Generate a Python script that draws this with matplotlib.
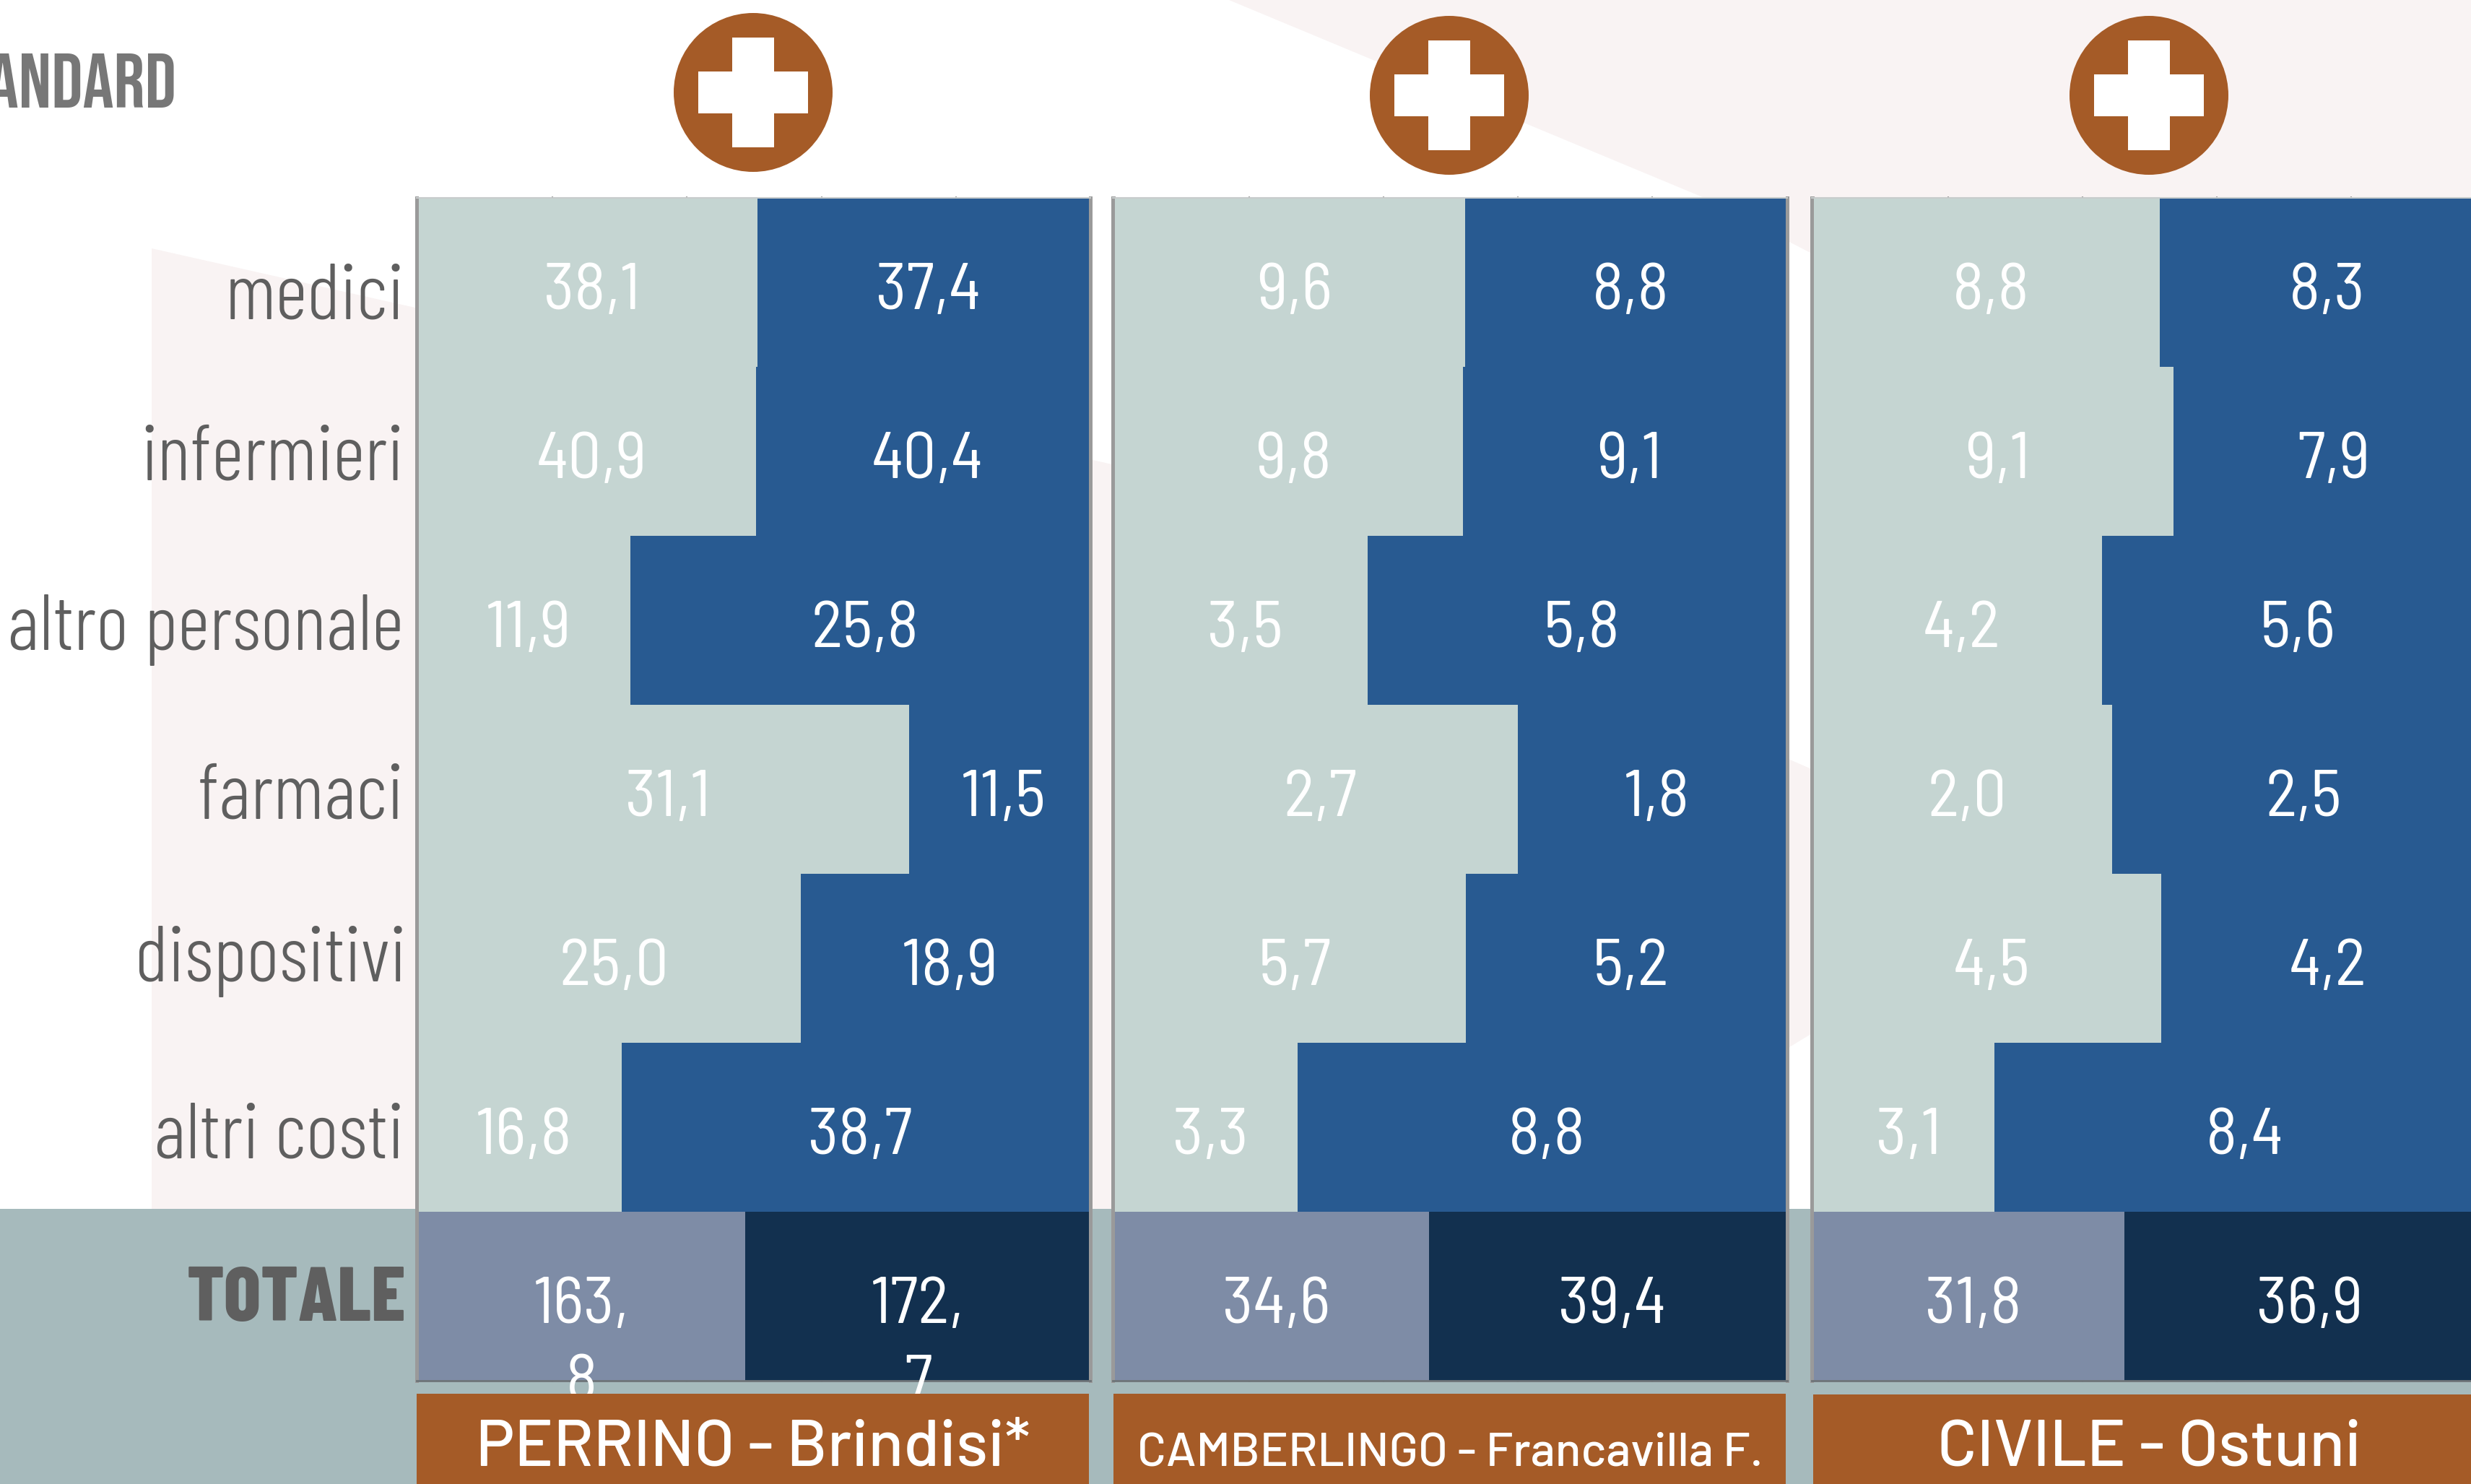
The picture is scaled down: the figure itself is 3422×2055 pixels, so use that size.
import matplotlib
matplotlib.use("Agg")
import matplotlib.pyplot as plt
from matplotlib.patches import Circle, Polygon, Rectangle

FALLBACK = ["Liberation Sans", "DejaVu Sans"]
CONDENSED = ["Barlow Condensed"] + FALLBACK
SEMI = ["Barlow Semi Condensed"] + FALLBACK
BAND = ["Barlow"] + FALLBACK
TITLE = ["Bebas Neue"] + CONDENSED
plt.rcParams["font.family"] = CONDENSED

W, H = 3422, 2055

categories = ["medici", "infermieri", "altro personale", "farmaci", "dispositivi", "altri costi", "TOTALE"]
hospitals = ["PERRINO - Brindisi*", "CAMBERLINGO - Francavilla F.", "CIVILE - Ostuni"]

perrino_left = [38.1, 40.9, 11.9, 31.1, 25.0, 16.8, 163.8]
perrino_right = [37.4, 40.4, 25.8, 11.5, 18.9, 38.7, 172.7]
camberlingo_left = [9.6, 9.8, 3.5, 2.7, 5.7, 3.3, 34.6]
camberlingo_right = [8.8, 9.1, 5.8, 1.8, 5.2, 8.8, 39.4]
civile_left = [8.8, 9.1, 4.2, 2.0, 4.5, 3.1, 31.8]
civile_right = [8.3, 7.9, 5.6, 2.5, 4.2, 8.4, 36.9]

# colours
LIGHT = "#C5D5D2"
BLUE = "#285A91"
TOT_LIGHT = "#7E8CA6"
TOT_DARK = "#12304F"
TEAL = "#A6BABC"
BROWN = "#A55B27"
PINK = "#F9F3F3"
GREY = "#5F5F5F"

# label baseline below the row centre, px
label_drop = [50, 39, 41, 41, 32, 42, 34]
label_right = [560, 559, 559, 559, 562, 559, 562]


def px_axes(left, top, right, bottom, zorder):
    return fig.add_axes([left / W, 1 - bottom / H, (right - left) / W, (bottom - top) / H], zorder=zorder)


def fmt(v):
    s = f"{v:.1f}".replace(".", ",")
    if v >= 100:
        return s.replace(",", ",\n")
    return s


def draw_panel(left, lvals, rvals):
    ax = px_axes(left, 274, left + 933.5, 1912, 2)
    total = [a + b for a, b in zip(lvals, rvals)]
    lpct = [100 * a / t for a, t in zip(lvals, total)]
    rpct = [100 * b / t for b, t in zip(rvals, total)]
    ypos = list(range(len(categories)))
    lcol = [LIGHT] * 6 + [TOT_LIGHT]
    rcol = [BLUE] * 6 + [TOT_DARK]
    ax.barh(ypos, lpct, height=1, color=lcol, linewidth=0)
    ax.barh(ypos, rpct, height=1, left=lpct, color=rcol, linewidth=0)
    # zero sits just inside the left spine
    ax.set_xlim(-0.27, 100)
    ax.set_ylim(6.5, -0.5)
    ax.set_yticks([])
    ax.set_xticks([0, 20, 40, 60, 80, 100])
    ax.tick_params(axis="x", top=True, bottom=True, labelbottom=False, length=1.5, width=1.5, color="#A0A0A0")
    for side in ["left", "right"]:
        ax.spines[side].set_color("#9A9A9A")
        ax.spines[side].set_linewidth(3.6)
    ax.spines["top"].set_color("#C8CCCC")
    ax.spines["top"].set_linewidth(1.5)
    ax.spines["bottom"].set_color("#6E7478")
    ax.spines["bottom"].set_linewidth(2)

    for i in ypos:
        for val, x in ((lvals[i], lpct[i] / 2), (rvals[i], lpct[i] + rpct[i] / 2)):
            lines = fmt(val).split("\n")
            nudge = 6 if len(lines) == 1 else 0
            for k, line in enumerate(lines):
                ax.annotate(line, xy=(x, i), xytext=(nudge, -37 - 108 * k), textcoords="offset pixels",
                            ha="center", va="baseline", color="white", fontsize=66, family=SEMI,
                            fontweight=400, annotation_clip=False)
    return ax


fig = plt.figure(figsize=(W / 100, H / 100), dpi=100, facecolor="white")

# background shapes, in pixels of the picture
bg = px_axes(0, 0, W, H, 0)
bg.set_xlim(0, W)
bg.set_ylim(H, 0)
bg.axis("off")
bg.add_patch(Polygon([(210, 344), (1540, 643), (2511, 1066), (2511, 1430), (2110, 1674), (210, 1674)],
                     color=PINK, linewidth=0))
bg.add_patch(Polygon([(1702, 0), (W, 0), (W, 700), (2511, 352), (2358, 273)], color=PINK, linewidth=0))
bg.add_patch(Rectangle((0, 1674), W, H - 1674, color=TEAL, linewidth=0))

bg.text(245, 149, "STANDARD", ha="right", va="baseline", color="#777777", fontsize=77, family=TITLE)

for cx, cy in ((1043, 128), (2007, 132), (2976, 132)):
    bg.add_patch(Circle((cx, cy), 110, color=BROWN, linewidth=0))
    bg.add_patch(Rectangle((cx - 76, cy - 29), 152, 58, color="white", linewidth=0))
    bg.add_patch(Rectangle((cx - 29, cy - 76), 58, 152, color="white", linewidth=0))

ax1 = draw_panel(576.5, perrino_left, perrino_right)
draw_panel(1541, camberlingo_left, camberlingo_right)
draw_panel(2509, civile_left, civile_right)

# row labels, left of the first panel
for i, name in enumerate(categories):
    bold = name == "TOTALE"
    ax1.annotate(name, xy=(0, i), xytext=(label_right[i] - 579, -label_drop[i]), textcoords="offset pixels",
                 ha="right", va="baseline", color=GREY,
                 fontsize=77 if bold else 79, fontweight=800 if bold else 300,
                 annotation_clip=False)

# hospital name bands sit on top of the panels
top = px_axes(0, 0, W, H, 3)
top.set_xlim(0, W)
top.set_ylim(H, 0)
top.axis("off")
top.patch.set_alpha(0)
band_lefts = [577, 1542, 2511]
band_tops = [1930, 1930, 1931]
name_sizes = [65, 47.5, 65]
for name, bl, bt, fs in zip(hospitals, band_lefts, band_tops, name_sizes):
    top.add_patch(Rectangle((bl, bt), 931, H - bt, color=BROWN, linewidth=0))
    top.text(bl + 466, 2029, name, ha="center", va="baseline", color="white", fontsize=fs,
             family=BAND, fontweight=500)

fig.savefig("out.png", dpi=100)
